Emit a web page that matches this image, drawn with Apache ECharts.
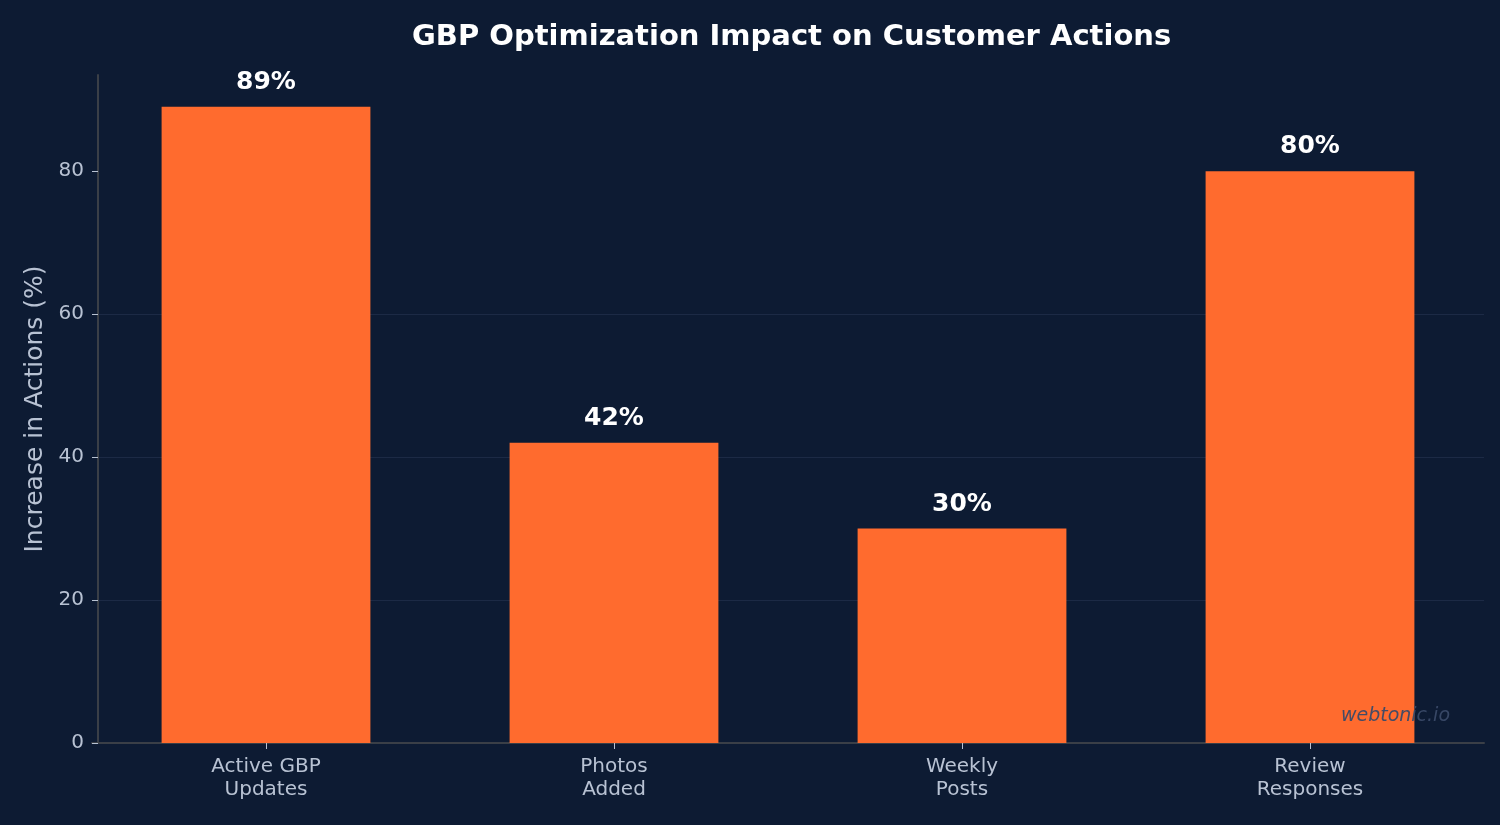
<!DOCTYPE html>
<html>
<head>
<meta charset="utf-8">
<script src="https://cdn.jsdelivr.net/npm/echarts@6/dist/echarts.min.js"></script>
<style>
html,body{margin:0;padding:0;background:#0d1b33;}
#chart{width:1500px;height:825px;}
</style>
</head>
<body>
<div id="chart"></div>
<script>
// 类目
var categories = ['Active GBP\nUpdates', 'Photos\nAdded', 'Weekly\nPosts', 'Review\nResponses'];
// 数值 (%)
var values = [89, 42, 30, 80];
// Y轴刻度
var yTicks = [0, 20, 40, 60, 80];

var font = 'DejaVu Sans';
var myChart = echarts.init(document.getElementById('chart'));
var option = {
	backgroundColor: '#0d1b33',
	animation: false,
	title: {
		text: 'GBP Optimization Impact on Customer Actions',
		left: 407,
		top: 18,
		textStyle: {color: '#ffffff', fontFamily: font, fontSize: 29, fontWeight: 'bold'}
	},
	grid: {left: 92, right: 16, top: 75, bottom: 82},
	xAxis: {
		type: 'category',
		data: categories,
		axisLine: {show: true, lineStyle: {color: '#3a3f47', width: 2}},
		axisTick: {show: true, alignWithLabel: true, length: 6, lineStyle: {color: '#b8c2d3'}},
		axisLabel: {color: '#b8c2d3', fontFamily: font, fontSize: 20, lineHeight: 23, margin: 12},
		splitLine: {show: false}
	},
	yAxis: {
		type: 'value',
		min: 0,
		max: 93.45,
		interval: 20,
		offset: -6,
		name: 'Increase in Actions (%)',
		nameLocation: 'middle',
		nameGap: 48,
		nameTextStyle: {color: '#b8c2d3', fontFamily: font, fontSize: 25},
		axisLine: {show: true, lineStyle: {color: '#3a3f47', width: 2}},
		axisTick: {show: true, length: 6, lineStyle: {color: '#b8c2d3'}, customValues: yTicks},
		axisLabel: {
			color: '#b8c2d3', fontFamily: font, fontSize: 20, margin: 14,
			customValues: yTicks
		},
		splitLine: {show: true, showMaxLine: false, lineStyle: {color: '#1c2a45', width: 1}}
	},
	series: [{
		type: 'bar',
		data: values,
		barWidth: '60%',
		itemStyle: {color: '#ff6b2e'},
		label: {
			show: true,
			position: 'top',
			distance: 12,
			formatter: '{c}%',
			color: '#ffffff',
			fontFamily: font,
			fontSize: 25,
			fontWeight: 'bold'
		}
	}],
	graphic: [{
		type: 'text',
		right: 50,
		top: 707,
		z: 100,
		style: {
			text: 'webtonic.io',
			fill: 'rgba(58,74,104,0.95)',
			font: 'italic 19px "DejaVu Sans"'
		}
	}]
};
myChart.setOption(option);
</script>
</body>
</html>
